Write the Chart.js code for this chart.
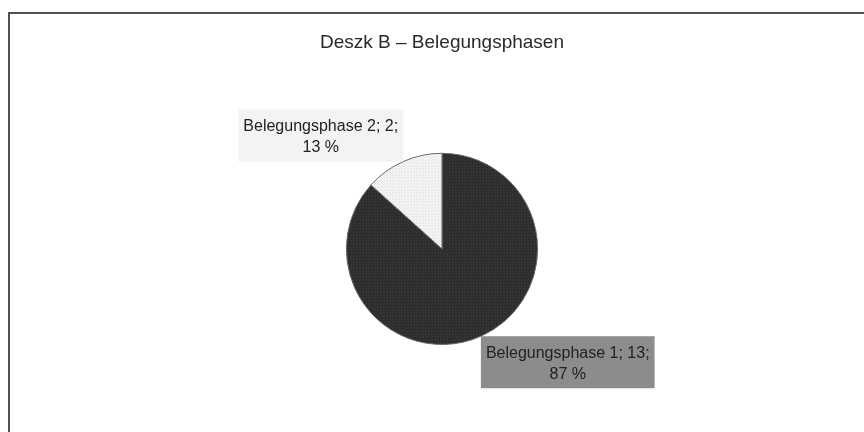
<!DOCTYPE html>
<html>
<head>
<meta charset="utf-8">
<script src="https://cdn.jsdelivr.net/npm/chart.js@4/dist/chart.umd.min.js"></script>
<style>
  html, body { margin: 0; padding: 0; background: #fff; }
  #wrap { width: 864px; height: 432px; }
</style>
</head>
<body>
<div id="wrap"><canvas id="myChart" width="864" height="432"></canvas></div>
<script>
// data
var phaseNames = ["Belegungsphase 1", "Belegungsphase 2"];
var phaseCounts = [13, 2];
var chartTitle = "Deszk B \u2013 Belegungsphasen";

// little texture tiles so the slices look like the printed hatch
function makePattern(base, dot) {
    var c = document.createElement("canvas");
    c.width = 3; c.height = 3;
    var g = c.getContext("2d");
    g.fillStyle = base;
    g.fillRect(0, 0, 3, 3);
    g.fillStyle = dot;
    g.fillRect(0, 0, 1, 1);
    g.fillRect(2, 1, 1, 1);
    return g.createPattern(c, "repeat");
}
var sliceFills = [makePattern("#2c2c2c", "#3c3c3c"), makePattern("#f4f4f4", "#e2e2e2")];
var labelBoxes = ["#8c8c8c", "#f3f3f3"];

///////////////////////////////////////////////////////////////
// frame lines (top + left, like the scanned figure)
var framePlugin = {
    id: "frame",
    beforeDraw: function(chart) {
        var ctx = chart.ctx;
        ctx.save();
        ctx.strokeStyle = "#505050";
        ctx.lineWidth = 2;
        ctx.beginPath();
        ctx.moveTo(9, chart.height);
        ctx.lineTo(9, 13);
        ctx.lineTo(chart.width, 13);
        ctx.stroke();
        ctx.restore();
    }
};

// data labels: box corner sits on the outer middle point of each slice
var labelPlugin = {
    id: "sliceLabels",
    afterDatasetsDraw: function(chart) {
        var ctx = chart.ctx;
        var meta = chart.getDatasetMeta(0);
        var total = phaseCounts.reduce(function(a, b) { return a + b; }, 0);
        ctx.save();
        ctx.font = "16px 'Liberation Sans', Arial, sans-serif";
        ctx.textAlign = "center";
        ctx.textBaseline = "middle";
        meta.data.forEach(function(arc, i) {
            var p = arc.getProps(["x", "y", "startAngle", "endAngle", "outerRadius"], true);
            var mid = (p.startAngle + p.endAngle) / 2;
            var ax = p.x + Math.cos(mid) * p.outerRadius;
            var ay = p.y + Math.sin(mid) * p.outerRadius;
            var line1 = phaseNames[i] + "; " + phaseCounts[i] + ";";
            var line2 = Math.round(phaseCounts[i] / total * 100) + " %";
            var w = Math.max(ctx.measureText(line1).width, ctx.measureText(line2).width) + 10;
            var h = 52;
            var bx = Math.cos(mid) >= 0 ? ax : ax - w;
            var by = Math.sin(mid) >= 0 ? ay : ay - h;
            ctx.fillStyle = labelBoxes[i];
            ctx.fillRect(bx, by, w, h);
            ctx.fillStyle = "#222";
            ctx.fillText(line1, bx + w / 2, by + 17);
            ctx.fillText(line2, bx + w / 2, by + 38);
        });
        ctx.restore();
    }
};
///////////////////////////////////////////////////////////////

var ctx = document.getElementById("myChart").getContext("2d");
var chart = new Chart(ctx, {
    type: "pie",
    data: {
        labels: phaseNames,
        datasets: [{
            data: phaseCounts,
            backgroundColor: sliceFills,
            borderColor: "#6a6a6a",
            borderWidth: 1
        }]
    },
    options: {
        responsive: false,
        animation: false,
        layout: { padding: { left: 20, right: 0, top: 0, bottom: 87 } },
        plugins: {
            legend: { display: false },
            tooltip: { enabled: false },
            title: {
                display: true,
                text: chartTitle,
                color: "#2a2a2a",
                font: { family: "'Liberation Sans', Arial, sans-serif", size: 19, weight: "normal" },
                padding: { top: 31, bottom: 99 }
            }
        }
    },
    plugins: [framePlugin, labelPlugin]
});
</script>
</body>
</html>
